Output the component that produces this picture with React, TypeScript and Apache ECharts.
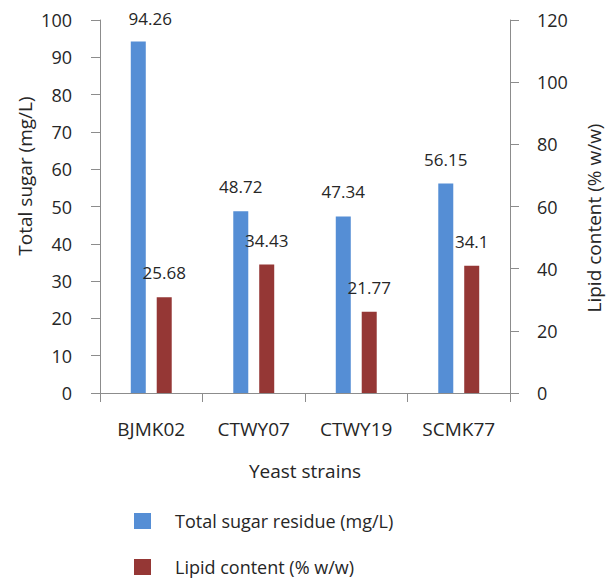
import React, { useEffect, useRef } from "react";
import * as echarts from "echarts";

const categories = ["BJMK02", "CTWY07", "CTWY19", "SCMK77"];
const sugarValues = [94.26, 48.72, 47.34, 56.15];
const lipidValues = [25.68, 34.43, 21.77, 34.1];
const leftTicks = { min: 0, max: 100, interval: 10 };
const rightTicks = { min: 0, max: 120, interval: 20 };

const FONT = "'Open Sans', 'Noto Sans', sans-serif";
const AXIS_COLOR = "#8c8c8c";
const TEXT_COLOR = "#262626";

export default function App() {
  const ref = useRef<HTMLDivElement>(null);
  useEffect(() => {
    document.body.style.margin = "0";
    if (!ref.current) return;
    const chart = echarts.init(ref.current, null, { renderer: "svg" });
    const axisCommon = {
      axisLine: { show: true, lineStyle: { color: AXIS_COLOR, width: 1 } },
      axisTick: { show: true, length: 9, lineStyle: { color: AXIS_COLOR } },
      splitLine: { show: false },
    };
    chart.setOption({
      animation: false,
      textStyle: { fontFamily: FONT },
      grid: { left: 100, right: 106, top: 20, bottom: 185 },
      legend: {
        orient: "vertical",
        left: 134,
        top: 512,
        padding: 0,
        itemWidth: 17,
        itemHeight: 16,
        itemGap: 28,
        icon: "rect",
        textStyle: { fontSize: 18, color: TEXT_COLOR, fontFamily: FONT, padding: [4, 0, 0, 19] },
        data: ["Total sugar residue (mg/L)", "Lipid content (% w/w)"],
      },
      xAxis: {
        type: "category",
        data: categories,
        ...axisCommon,
        axisLabel: { fontSize: 19, color: TEXT_COLOR, margin: 26, fontFamily: FONT },
      },
      yAxis: [
        {
          type: "value",
          position: "left",
          min: leftTicks.min,
          max: leftTicks.max,
          interval: leftTicks.interval,
          ...axisCommon,
          axisLabel: { fontSize: 18, color: TEXT_COLOR, margin: 28, fontFamily: FONT },
        },
        {
          type: "value",
          position: "right",
          min: rightTicks.min,
          max: rightTicks.max,
          interval: rightTicks.interval,
          ...axisCommon,
          axisLabel: { fontSize: 18, color: TEXT_COLOR, margin: 27, fontFamily: FONT },
        },
      ],
      graphic: [
        {
          type: "text",
          x: 25,
          y: 176,
          rotation: Math.PI / 2,
          style: {
            text: "Total sugar (mg/L)",
            fontSize: 19,
            fontFamily: FONT,
            fill: TEXT_COLOR,
            align: "center",
            verticalAlign: "middle",
          },
        },
        {
          type: "text",
          x: 594,
          y: 218,
          rotation: Math.PI / 2,
          style: {
            text: "Lipid content (% w/w)",
            fontSize: 19,
            fontFamily: FONT,
            fill: TEXT_COLOR,
            align: "center",
            verticalAlign: "middle",
          },
        },
        {
          type: "text",
          x: 305,
          y: 471,
          style: {
            text: "Yeast strains",
            fontSize: 19,
            fontFamily: FONT,
            fill: TEXT_COLOR,
            align: "center",
            verticalAlign: "middle",
          },
        },
      ],
      series: [
        {
          name: "Total sugar residue (mg/L)",
          type: "bar",
          yAxisIndex: 0,
          barWidth: 15,
          barGap: "73%",
          itemStyle: { color: "#558ED5" },
          label: {
            show: true,
            position: "top",
            distance: 16,
            fontSize: 17,
            color: TEXT_COLOR,
            fontFamily: FONT,
          },
          data: sugarValues.map((v, i) =>
            i === 0 ? { value: v, label: { offset: [12, 2] } } : v
          ),
        },
        {
          name: "Lipid content (% w/w)",
          type: "bar",
          yAxisIndex: 0,
          barWidth: 15,
          itemStyle: { color: "#953735" },
          label: {
            show: true,
            position: "top",
            distance: 16,
            fontSize: 17,
            color: TEXT_COLOR,
            fontFamily: FONT,
          },
          data: lipidValues,
        },
      ],
    });
    return () => chart.dispose();
  }, []);
  return <div ref={ref} style={{ width: 616, height: 578 }} />;
}
